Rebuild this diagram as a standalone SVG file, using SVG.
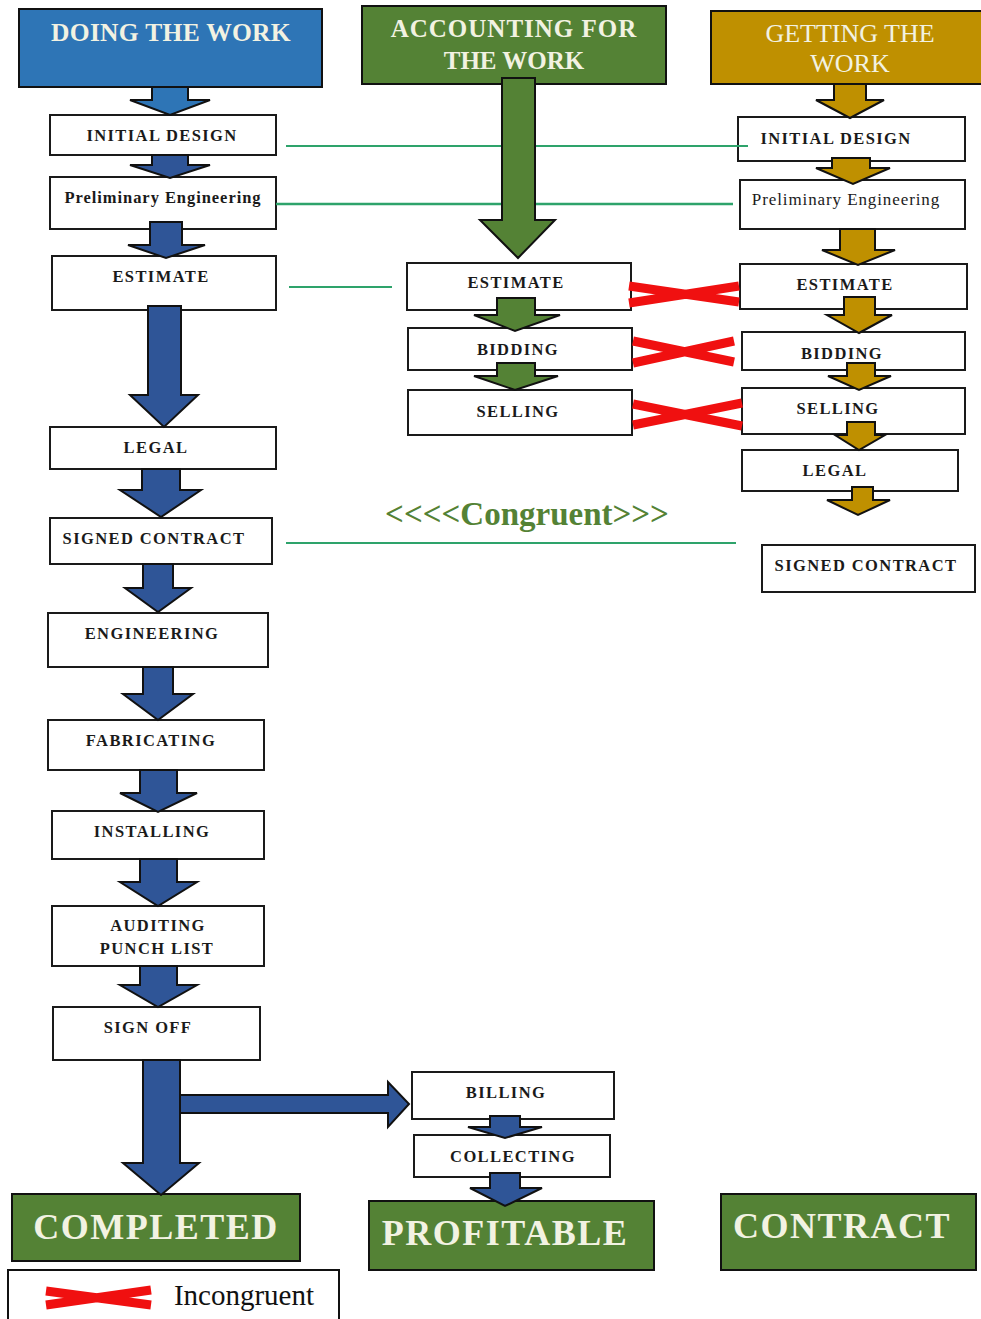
<svg xmlns="http://www.w3.org/2000/svg" width="981" height="1319" viewBox="0 0 981 1319">
<style>
.box{fill:#fff;stroke:#1a1a1a;stroke-width:2}
.lbl{font-family:"Liberation Serif",serif;font-weight:bold;font-size:16.5px;fill:#1a1a1a;text-anchor:middle;letter-spacing:1.4px}
.lblr{font-family:"Liberation Serif",serif;font-size:17px;fill:#1a1a1a;text-anchor:middle;letter-spacing:0.9px}
.hdr{font-family:"Liberation Serif",serif;font-size:25px;fill:#F2F2E2;text-anchor:middle}
.big{font-family:"Liberation Serif",serif;font-weight:bold;font-size:36px;fill:#F2F2E2;text-anchor:middle;letter-spacing:1.5px}
.blue{fill:#2F5597;stroke:#111;stroke-width:2;stroke-linejoin:miter}
.green{fill:#548235;stroke:#111;stroke-width:2}
.gold{fill:#BF9000;stroke:#111;stroke-width:2}
.cong{stroke:#2EA36B;stroke-width:2;fill:none}
.x{stroke:#F01010;stroke-width:9;fill:none;stroke-linecap:butt}
</style>

<!-- headers -->
<g id="hdr-doing"><rect x="19" y="9" width="303" height="78" fill="#2E75B6" stroke="#111" stroke-width="2"/><text class="hdr" x="171" y="41" style="font-weight:bold;font-size:25.5px;letter-spacing:0.3px">DOING THE WORK</text></g>
<g id="hdr-accounting"><rect x="362" y="6" width="304" height="78" fill="#548235" stroke="#111" stroke-width="2"/><text class="hdr" x="514" y="37" style="font-weight:bold;letter-spacing:1px">ACCOUNTING  FOR</text><text class="hdr" x="514" y="69" style="font-weight:bold">THE WORK</text></g>
<g id="hdr-getting"><rect x="711" y="11" width="272" height="73" fill="#BF9000" stroke="#111" stroke-width="2"/><text class="hdr" x="850" y="42" style="font-size:26px">GETTING THE</text><text class="hdr" x="850" y="72" style="font-size:26px">WORK</text></g>

<!-- left column -->
<g id="l-initial"><rect class="box" x="50" y="115" width="226" height="40"/><text class="lbl" x="162" y="141">INITIAL DESIGN</text></g>
<g id="l-prelim"><rect class="box" x="50" y="177" width="226" height="52"/><text class="lbl" x="163" y="203" style="letter-spacing:0.95px">Preliminary Engineering</text></g>
<g id="l-estimate"><rect class="box" x="52" y="256" width="224" height="54"/><text class="lbl" x="161" y="282">ESTIMATE</text></g>
<g id="l-legal"><rect class="box" x="50" y="427" width="226" height="42"/><text class="lbl" x="156" y="453">LEGAL</text></g>
<g id="l-signed"><rect class="box" x="50" y="518" width="222" height="46"/><text class="lbl" x="154" y="544">SIGNED CONTRACT</text></g>
<g id="l-engineering"><rect class="box" x="48" y="613" width="220" height="54"/><text class="lbl" x="152" y="639">ENGINEERING</text></g>
<g id="l-fabricating"><rect class="box" x="48" y="720" width="216" height="50"/><text class="lbl" x="151" y="746">FABRICATING</text></g>
<g id="l-installing"><rect class="box" x="52" y="811" width="212" height="48"/><text class="lbl" x="152" y="837">INSTALLING</text></g>
<g id="l-auditing"><rect class="box" x="52" y="906" width="212" height="60"/><text class="lbl" x="158" y="931">AUDITING</text><text class="lbl" x="157" y="954">PUNCH LIST</text></g>
<g id="l-signoff"><rect class="box" x="53" y="1007" width="207" height="53"/><text class="lbl" x="148" y="1033">SIGN OFF</text></g>

<!-- middle column -->
<g id="m-estimate"><rect class="box" x="407" y="263" width="224" height="47"/><text class="lbl" x="516" y="288">ESTIMATE</text></g>
<g id="m-bidding"><rect class="box" x="408" y="328" width="224" height="42"/><text class="lbl" x="518" y="355">BIDDING</text></g>
<g id="m-selling"><rect class="box" x="408" y="390" width="224" height="45"/><text class="lbl" x="518" y="417">SELLING</text></g>

<!-- right column -->
<g id="r-initial"><rect class="box" x="738" y="117" width="227" height="44"/><text class="lbl" x="836" y="144">INITIAL DESIGN</text></g>
<g id="r-prelim"><rect class="box" x="740" y="180" width="225" height="49"/><text class="lblr" x="846" y="205">Preliminary Engineering</text></g>
<g id="r-estimate"><rect class="box" x="740" y="264" width="227" height="45"/><text class="lbl" x="845" y="290">ESTIMATE</text></g>
<g id="r-bidding"><rect class="box" x="742" y="332" width="223" height="38"/><text class="lbl" x="842" y="359">BIDDING</text></g>
<g id="r-selling"><rect class="box" x="742" y="388" width="223" height="46"/><text class="lbl" x="838" y="414">SELLING</text></g>
<g id="r-legal"><rect class="box" x="742" y="450" width="216" height="41"/><text class="lbl" x="835" y="476">LEGAL</text></g>
<g id="r-signed"><rect class="box" x="762" y="545" width="213" height="47"/><text class="lbl" x="866" y="571">SIGNED CONTRACT</text></g>

<!-- congruent label -->
<g id="congruent-label"><text x="527" y="525" font-family="'Liberation Serif',serif" font-weight="bold" font-size="33" fill="#548235" text-anchor="middle">&lt;&lt;&lt;&lt;Congruent&gt;&gt;&gt;</text></g>

<!-- bottom -->
<g id="b-billing"><rect class="box" x="412" y="1072" width="202" height="47"/><text class="lbl" x="506" y="1098">BILLING</text></g>
<g id="b-collecting"><rect class="box" x="414" y="1135" width="196" height="42"/><text class="lbl" x="513" y="1162">COLLECTING</text></g>
<g id="completed"><rect x="12" y="1194" width="288" height="67" fill="#548235" stroke="#111" stroke-width="2"/><text class="big" x="156" y="1239">COMPLETED</text></g>
<g id="profitable"><rect x="369" y="1201" width="285" height="69" fill="#548235" stroke="#111" stroke-width="2"/><text class="big" x="505" y="1245">PROFITABLE</text></g>
<g id="contract"><rect x="721" y="1194" width="255" height="76" fill="#548235" stroke="#111" stroke-width="2"/><text class="big" x="842" y="1238">CONTRACT</text></g>

<!-- connectors: lines, arrows, crosses -->
<g id="connectors">
<line class="cong" x1="286" y1="146" x2="748" y2="146"/>
<line class="cong" x1="276" y1="204" x2="733" y2="204" style="stroke-width:2.5"/>
<line class="cong" x1="289" y1="287" x2="392" y2="287"/>
<line class="cong" x1="286" y1="543" x2="736" y2="543"/>

<!-- left blue arrows -->
<polygon class="blue" style="fill:#2E75B6" points="152,87 188,87 188,100 210,100 170,115 130,100 152,100"/>
<polygon class="blue" points="152,155 188,155 188,165 210,165 170,178 130,165 152,165"/>
<polygon class="blue" points="150,222 182,222 182,245 205,245 166,258 128,245 150,245"/>
<polygon class="blue" points="148,306 181,306 181,395 198,395 164,427 130,395 148,395"/>
<polygon class="blue" points="142,469 180,469 180,490 201,490 161,517 120,490 142,490"/>
<polygon class="blue" points="143,564 173,564 173,588 191,588 158,612 125,588 143,588"/>
<polygon class="blue" points="143,667 173,667 173,694 193,694 158,720 123,694 143,694"/>
<polygon class="blue" points="140,770 177,770 177,793 197,793 158,812 120,793 140,793"/>
<polygon class="blue" points="140,859 177,859 177,882 197,882 158,906 120,882 140,882"/>
<polygon class="blue" points="140,966 177,966 177,985 197,985 158,1007 120,985 140,985"/>
<polygon class="blue" points="143,1060 180,1060 180,1095 388,1095 388,1082 409,1104 388,1127 388,1113 180,1113 180,1163 199,1163 161,1195 123,1163 143,1163"/>
<line x1="180" y1="1096" x2="180" y2="1112" stroke="#111" stroke-width="2"/>
<polygon class="blue" points="490,1116 520,1116 520,1127 542,1127 505,1138 468,1127 490,1127"/>
<polygon class="blue" points="490,1173 520,1173 520,1188 542,1188 505,1206 470,1188 490,1188"/>

<!-- middle green arrows -->
<polygon class="green" points="502,78 535,78 535,220 555,220 518,258 480,220 502,220"/>
<polygon class="green" points="497,298 535,298 535,315 560,315 515,331 474,315 497,315"/>
<polygon class="green" points="497,363 535,363 535,376 558,376 515,390 474,376 497,376"/>

<!-- right gold arrows -->
<polygon class="gold" points="834,84 866,84 866,100 884,100 850,118 816,100 834,100"/>
<polygon class="gold" points="832,158 870,158 870,168 890,168 853,184 816,168 832,168"/>
<polygon class="gold" points="840,229 875,229 875,250 895,250 858,265 822,250 840,250"/>
<polygon class="gold" points="844,297 875,297 875,315 892,315 859,333 827,315 844,315"/>
<polygon class="gold" points="847,363 875,363 875,376 891,376 859,390 828,376 847,376"/>
<polygon class="gold" points="847,422 875,422 875,435 885,435 859,450 835,435 847,435"/>
<polygon class="gold" points="852,487 873,487 873,500 890,500 858,515 827,500 852,500"/>

<!-- incongruent crosses -->
<path class="x" d="M629,286 L739,302 M629,303 L739,286"/>
<path class="x" d="M633,341 L734,362 M633,363 L734,341"/>
<path class="x" d="M633,404 L742,426 M633,425 L742,403"/>
</g>

<!-- legend -->
<g id="legend"><rect x="8" y="1270" width="331" height="60" fill="#fff" stroke="#111" stroke-width="2"/><path class="x" d="M46,1291 L151,1305 M46,1305 L151,1290"/><text x="244" y="1305" font-family="'Liberation Serif',serif" font-size="29" fill="#111" text-anchor="middle">Incongruent</text></g>
</svg>
